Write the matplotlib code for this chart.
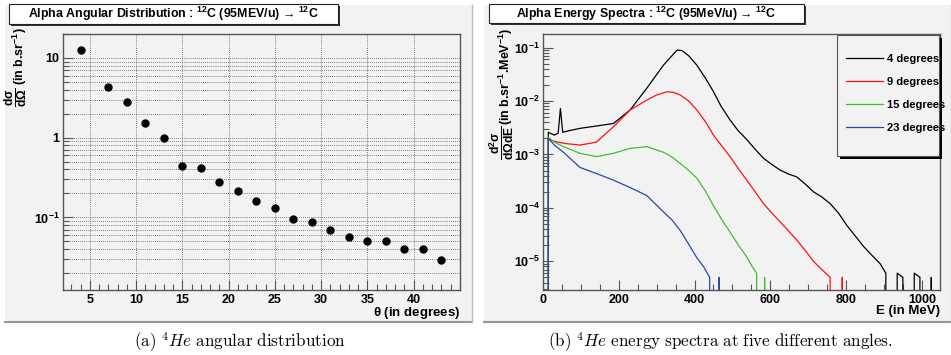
import numpy as np
import matplotlib
matplotlib.use("Agg")
import matplotlib.pyplot as plt
from matplotlib.patches import Rectangle
from matplotlib.ticker import FixedLocator, MultipleLocator, LogLocator, NullFormatter

plt.rcParams['font.family'] = ['Liberation Sans', 'DejaVu Sans']
plt.rcParams['font.weight'] = 'bold'
plt.rcParams['mathtext.fontset'] = 'custom'
plt.rcParams['mathtext.rm'] = 'Liberation Sans:bold'
plt.rcParams['mathtext.it'] = 'Liberation Sans:bold'
plt.rcParams['mathtext.bf'] = 'Liberation Sans:bold'

# angular distribution (left panel)
theta = [4, 7, 9, 11, 13, 15, 17, 19, 21, 23, 25, 27, 29, 31, 33, 35, 37, 39, 41, 43]
dsigma = [12.6, 4.35, 2.84, 1.53, 0.99, 0.44, 0.42, 0.276, 0.213, 0.16, 0.132,
          0.096, 0.087, 0.069, 0.057, 0.051, 0.051, 0.040, 0.040, 0.029]

# energy spectra (right panel)
e_4 = [12, 14, 30, 40, 46, 52, 70, 100, 140, 186, 230, 274, 318, 340, 354, 367, 385,
       406, 430, 450, 470, 494, 515, 538, 560, 582, 604, 626, 648, 670, 692, 714, 736,
       758, 780, 802, 824, 846, 868, 890, 905, 920, 935, 950, 965, 980, 995, 1010,
       1025, 1040]
s_4 = [0, 2.6e-3, 2.3e-3, 2.5e-3, 7.3e-3, 2.6e-3, 2.8e-3, 3.1e-3, 3.4e-3, 3.8e-3,
       6.8e-3, 1.74e-2, 4.7e-2, 7.0e-2, 9.0e-2, 8.8e-2, 7.0e-2, 4.7e-2, 2.6e-2, 1.5e-2,
       8.0e-3, 4.4e-3, 2.8e-3, 1.9e-3, 1.25e-3, 8.5e-4, 6.5e-4, 5.1e-4, 4.3e-4, 3.8e-4,
       2.8e-4, 2.0e-4, 1.6e-4, 1.2e-4, 8e-5, 4.7e-5, 3e-5, 1.9e-5, 1.3e-5, 9e-6, 6e-6,
       0, 6e-6, 5e-6, 0, 6e-6, 5e-6, 0, 5e-6, 0]

e_9 = [12, 14, 40, 60, 98, 141, 186, 230, 274, 300, 327, 345, 362, 385, 406, 430, 450,
       470, 494, 515, 538, 560, 582, 604, 626, 648, 670, 692, 714, 736, 758, 775, 790, 800]
s_9 = [0, 1.9e-3, 1.7e-3, 1.6e-3, 1.5e-3, 1.7e-3, 3.3e-3, 6.8e-3, 1.04e-2, 1.3e-2,
       1.49e-2, 1.45e-2, 1.3e-2, 1.0e-2, 6.8e-3, 4.0e-3, 2.3e-3, 1.5e-3, 9.1e-4, 5.5e-4,
       3.3e-4, 2.0e-4, 1.2e-4, 8e-5, 5.5e-5, 3.7e-5, 2.5e-5, 1.6e-5, 1.0e-5, 7e-6,
       5e-6, 0, 5e-6, 0]

e_15 = [12, 14, 30, 54, 98, 141, 186, 230, 274, 318, 340, 362, 385, 406, 430, 450, 472,
        494, 516, 538, 552, 564, 575, 585, 595]
s_15 = [0, 2.1e-3, 1.7e-3, 1.4e-3, 1.05e-3, 9.1e-4, 1.05e-3, 1.3e-3, 1.4e-3, 1.1e-3,
        9e-4, 6.8e-4, 5e-4, 3.6e-4, 2e-4, 1.1e-4, 6e-5, 3.5e-5, 2e-5, 1.2e-5, 8e-6,
        6e-6, 0, 5e-6, 0]

e_23 = [12, 14, 30, 54, 98, 141, 186, 230, 274, 318, 340, 362, 375, 388, 405, 424, 440,
        455, 465, 475]
s_23 = [0, 2e-3, 1.5e-3, 1.1e-3, 5.7e-4, 4.4e-4, 3.3e-4, 2.4e-4, 1.7e-4, 8.4e-5, 6e-5,
        3.8e-5, 2.7e-5, 1.9e-5, 1.2e-5, 7.9e-6, 5e-6, 0, 5e-6, 0]

spectra = [(e_4, s_4, 'black', '4 degrees'),
           (e_9, s_9, '#ff1010', '9 degrees'),
           (e_15, s_15, '#44bb33', '15 degrees'),
           (e_23, s_23, '#2a48a8', '23 degrees')]

W, H = 951, 355
BG = '#f2f2f2'
FRAME = '#555555'

fig = plt.figure(figsize=(W / 100, H / 100), dpi=100)
fig.patch.set_facecolor('white')


def px_rect(x0, y0, x1, y1):
    # pixel box (top-left origin) -> figure fraction
    return [x0 / W, 1 - y1 / H, (x1 - x0) / W, (y1 - y0) / H]


def fig_box(x0, y0, x1, y1, **kw):
    r = px_rect(x0, y0, x1, y1)
    fig.patches.append(Rectangle((r[0], r[1]), r[2], r[3], transform=fig.transFigure, **kw))


def px_text(x, y, s, **kw):
    return fig.text(x / W, 1 - y / H, s, ha='center', va='center', **kw)


def panel(x0, y0, x1, y1):
    fig_box(x0, y0, x1, y1, facecolor=BG, edgecolor='none', zorder=-10)
    # darker lower/right border
    fig.add_artist(plt.Line2D([x0 / W, x1 / W], [1 - y1 / H] * 2, color='#999999',
                              lw=1.5, zorder=-9))
    fig.add_artist(plt.Line2D([x1 / W] * 2, [1 - y1 / H, 1 - y0 / H], color='#bbbbbb',
                              lw=1, zorder=-9))


def title_box(x0, y0, x1, y1, text):
    fig_box(x0 + 2, y0 + 2, x1 + 2, y1 + 2, facecolor='#333333', edgecolor='none', zorder=5)
    fig_box(x0, y0, x1, y1, facecolor='white', edgecolor='#222222', lw=0.8, zorder=6)
    px_text((x0 + x1) / 2, (y0 + y1) / 2, text, fontsize=8.9, fontweight='bold', zorder=7)


def style_axes(ax):
    ax.set_facecolor(BG)
    for s in ax.spines.values():
        s.set_color(FRAME)
        s.set_linewidth(1.0)
    ax.tick_params(which='both', direction='in', top=False, right=False,
                   labelsize=9, colors=FRAME, labelcolor='black')
    ax.tick_params(axis='x', pad=3)
    ax.tick_params(axis='y', pad=2.5)
    ax.tick_params(which='major', length=7, width=0.8)
    ax.tick_params(which='minor', length=4, width=0.8)


panel(5, 5, 472, 322)
panel(484, 5, 951, 322)

# ---- left: angular distribution
ax1 = fig.add_axes(px_rect(63, 34, 460, 290))
style_axes(ax1)
ax1.set_yscale('log')
ax1.plot(theta, dsigma, 'o', color='black', ms=5, zorder=3)
ax1.set_xticks([5, 10, 15, 20, 25, 30, 35, 40])
ax1.set_xticklabels(['5', '10', '15', '20', '25', '30', '35', '40'], fontweight='bold')
ax1.xaxis.set_minor_locator(MultipleLocator(1))
ax1.yaxis.set_major_locator(FixedLocator([0.1, 1, 10]))
ax1.set_yticklabels(['10$^{-1}$', '1', '10'], fontweight='bold')
ax1.yaxis.set_minor_locator(LogLocator(base=10, subs=np.arange(2, 10)))
ax1.yaxis.set_minor_formatter(NullFormatter())
ax1.set_xlim(2.1, 45)
ax1.set_ylim(0.0123, 20)
ax1.grid(True, which='major', axis='x', color='#555555', lw=0.6, ls=(0, (1, 1.5)))
ax1.grid(True, which='both', axis='y', color='#555555', lw=0.6, ls=(0, (1, 1.5)))
ax1.set_axisbelow(True)
ax1.text(1.0, -0.058, r'$\theta$ (in degrees)', transform=ax1.transAxes, ha='right',
         va='top', fontsize=9.5, fontweight='bold')
# y title: fraction and unit as two rotated pieces
px_text(16, 97, r'$\frac{\mathrm{d\sigma}}{\mathrm{d\Omega}}$', rotation=90, fontsize=12.5)
px_text(19.5, 56, r'(in b.sr$^{-1}$)', rotation=90, fontsize=9, fontweight='bold')

# ---- right: energy spectra
ax2 = fig.add_axes(px_rect(543, 34, 940, 290))
style_axes(ax2)
ax2.set_yscale('log', nonpositive='clip')
for e, s, c, lab in spectra:
    ax2.plot(e, s, color=c, lw=0.9, label=lab)
ax2.set_xticks([0, 200, 400, 600, 800, 1000])
ax2.set_xticklabels(['0', '200', '400', '600', '800', '1000'], fontweight='bold')
ax2.xaxis.set_minor_locator(MultipleLocator(50))
ax2.yaxis.set_major_locator(FixedLocator([1e-5, 1e-4, 1e-3, 1e-2, 1e-1]))
ax2.set_yticklabels(['10$^{-5}$', '10$^{-4}$', '10$^{-3}$', '10$^{-2}$', '10$^{-1}$'],
                    fontweight='bold')
ax2.yaxis.set_minor_locator(LogLocator(base=10, subs=np.arange(2, 10)))
ax2.yaxis.set_minor_formatter(NullFormatter())
ax2.set_xlim(0, 1048)
ax2.set_ylim(2.9e-6, 0.18)
ax2.text(1.0, -0.058, 'E (in MeV)', transform=ax2.transAxes, ha='right',
         va='top', fontsize=9.5, fontweight='bold')
px_text(502, 143, r'$\frac{\mathrm{d^2\sigma}}{\mathrm{d\Omega dE}}$', rotation=90,
        fontsize=12.5)
px_text(505.5, 76, r'(in b.sr$^{-1}$.MeV$^{-1}$)', rotation=90, fontsize=9,
        fontweight='bold')

# legend frame with ROOT-style black shadow, legend itself unframed
lx0, ly0, lw_, lh_ = 0.74, 0.523, 0.257, 0.473
ax2.add_patch(Rectangle((lx0 + 0.008, ly0 - 0.012), lw_, lh_, transform=ax2.transAxes,
                        facecolor='black', edgecolor='none', zorder=8, clip_on=False))
ax2.add_patch(Rectangle((lx0, ly0), lw_, lh_, transform=ax2.transAxes, facecolor=BG,
                        edgecolor=FRAME, lw=0.8, zorder=9, clip_on=False))
leg = ax2.legend(loc='center left', bbox_to_anchor=(0.763, 0.767), fontsize=8,
                 frameon=False, handlelength=3.3, handletextpad=0.4,
                 labelspacing=1.16, borderpad=0, borderaxespad=0)
leg.set_zorder(10)
for t in leg.get_texts():
    t.set_fontweight('bold')

title_box(9, 4, 338, 24, r'Alpha Angular Distribution : $^{12}$C (95MEV/u) → $^{12}$C')
title_box(489, 4, 804, 23, r'Alpha Energy Spectra : $^{12}$C (95MeV/u) → $^{12}$C')

px_text(240, 342, r'$\mathrm{(a)}\ ^{4}He\ \mathrm{angular\ distribution}$',
        fontsize=12.3, math_fontfamily='cm', fontweight='normal')
px_text(720, 342,
        r'$\mathrm{(b)}\ ^{4}He\ \mathrm{energy\ spectra\ at\ five\ different\ angles.}$',
        fontsize=12.3, math_fontfamily='cm', fontweight='normal')

fig.savefig('out.png', dpi=100, facecolor='white')
